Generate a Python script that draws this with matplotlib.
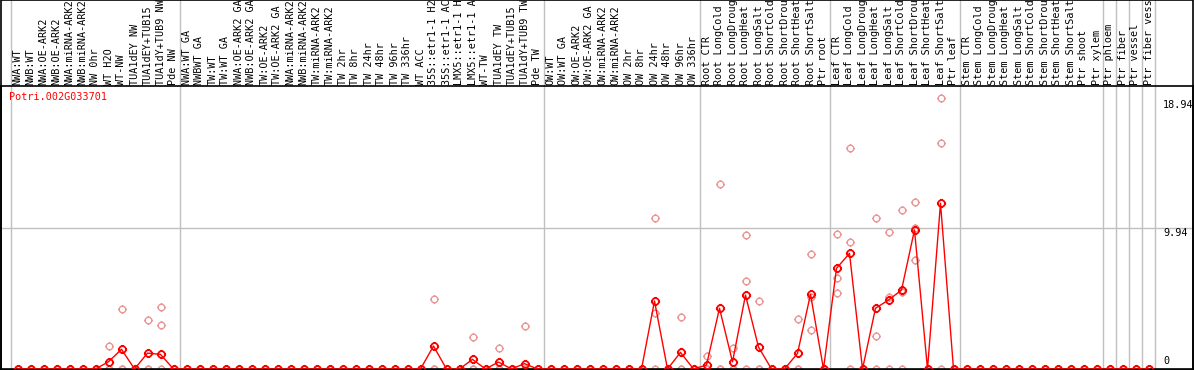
import numpy as np
import matplotlib
matplotlib.use("Agg")
import matplotlib.pyplot as plt
from matplotlib.path import Path
from matplotlib.patches import Rectangle

gene = "Potri.002G033701"

groups = [
    ["NWA:WT", "NWB:WT", "NWA:OE-ARK2", "NWB:OE-ARK2", "NWA:miRNA-ARK2", "NWB:miRNA-ARK2",
     "NW 0hr", "WT H2O", "WT-NW", "TUA1dEY NW", "TUA1dEY+TUB15", "TUA1dY+TUB9 NW", "Pde NW"],
    ["NWA:WT GA", "NWBWT GA", "TW:WT", "TW:WT GA", "NWA:OE-ARK2 GA", "NWB:OE-ARK2 GA",
     "TW:OE-ARK2", "TW:OE-ARK2 GA", "NWA:miRNA-ARK2", "NWB:miRNA-ARK2", "TW:miRNA-ARK2",
     "TW:miRNA-ARK2", "TW 2hr", "TW 8hr", "TW 24hr", "TW 48hr", "TW 96hr", "TW 336hr",
     "WT ACC", "35S::etr1-1 H2O", "35S::etr1-1 ACC", "LMX5::etr1-1 H2O", "LMX5::etr1-1 ACC",
     "WT-TW", "TUA1dEY TW", "TUA1dEY+TUB15", "TUA1dY+TUB9 TW", "Pde TW"],
    ["OW:WT", "OW:WT GA", "OW:OE-ARK2", "OW:OE-ARK2 GA", "OW:miRNA-ARK2", "OW:miRNA-ARK2",
     "OW 2hr", "OW 8hr", "OW 24hr", "OW 48hr", "OW 96hr", "OW 336hr"],
    ["Root CTR", "Root LongCold", "Root LongDrought", "Root LongHeat", "Root LongSalt",
     "Root ShortCold", "Root ShortDrought", "Root ShortHeat", "Root ShortSalt", "Ptr root"],
    ["Leaf CTR", "Leaf LongCold", "Leaf LongDrought", "Leaf LongHeat", "Leaf LongSalt",
     "Leaf ShortCold", "Leaf ShortDrought", "Leaf ShortHeat", "Leaf ShortSalt", "Ptr leaf"],
    ["Stem CTR", "Stem LongCold", "Stem LongDrought", "Stem LongHeat", "Stem LongSalt",
     "Stem ShortCold", "Stem ShortDrought", "Stem ShortHeat", "Stem ShortSalt",
     "Ptr shoot", "Ptr xylem"],
    ["Ptr phloem"],
    ["Ptr fiber"],
    ["Ptr vessel"],
    ["Ptr fiber vessel"],
]
labels = [s for g in groups for s in g]
n = len(labels)

# mean expression (red line), nonzero columns only
mean_nz = {7: 0.51, 8: 1.39, 10: 1.12, 11: 1.03, 32: 1.62, 35: 0.68, 37: 0.49, 39: 0.38,
           49: 4.79, 51: 1.17, 53: 0.28, 54: 4.28, 55: 0.50, 56: 5.21, 57: 1.55, 60: 1.10,
           61: 5.26, 63: 7.09, 64: 8.15, 66: 4.28, 67: 4.86, 68: 5.56, 69: 9.80, 71: 11.68}
# replicate points (pink), three per column
rep1_nz = {7: 1.62, 8: 4.20, 10: 3.43, 11: 4.34, 32: 4.93, 35: 2.23, 37: 1.46, 39: 3.01,
           49: 10.62, 51: 3.64, 53: 0.91, 54: 13.04, 55: 1.50, 56: 9.45, 57: 4.79, 60: 3.52,
           61: 8.11, 63: 9.51, 64: 15.55, 66: 10.62, 67: 9.63, 68: 11.20, 69: 11.75, 71: 19.06}
rep2_nz = {11: 3.07, 49: 3.92, 56: 6.20, 61: 5.05, 63: 6.39, 64: 8.93, 66: 2.32, 67: 5.05,
           68: 5.45, 69: 9.95, 71: 15.90}
rep3_nz = {61: 2.75, 63: 5.33, 69: 7.68}

mean = np.array([mean_nz.get(i, 0.0) for i in range(n)])
rep1 = np.array([rep1_nz.get(i, 0.0) for i in range(n)])
rep2 = np.array([rep2_nz.get(i, 0.0) for i in range(n)])
rep3 = np.array([rep3_nz.get(i, 0.0) for i in range(n)])

ymax = 19.94
yticks = [0, 9.94, 18.94]

# circle marker with four small ticks
t = np.linspace(0, 2 * np.pi, 33)
verts = [(np.cos(a), np.sin(a)) for a in t]
codes = [Path.MOVETO] + [Path.LINETO] * 32
tk = 1.35
for (a, b) in [((0, 1), (0, tk)), ((0, -1), (0, -tk)), ((1, 0), (tk, 0)), ((-1, 0), (-tk, 0))]:
    verts += [a, b]
    codes += [Path.MOVETO, Path.LINETO]
mk = Path(verts, codes)

W, H = 1194, 370
fig = plt.figure(figsize=(W / 100, H / 100), dpi=100)
x0 = 17.5
dx = 13.0
left_px, right_px, top_px, bot_px = 1, 1193, 86, 369
ax = fig.add_axes([left_px / W, (H - bot_px) / H, (right_px - left_px) / W, (bot_px - top_px) / H])
ax.set_xlim((left_px - x0) / dx, (right_px - x0) / dx)
ax.set_ylim(0, ymax)
ax.set_xticks([])
ax.set_yticks([])
for s in ax.spines.values():
    s.set_linewidth(1.2)
    s.set_color("black")

xs = np.arange(n)
pink = "#eb9696"
red = "#ff0000"
for r in (rep1, rep2, rep3):
    ax.plot(xs, r, linestyle="none", marker=mk, markersize=6.4, markerfacecolor="none",
            markeredgecolor=pink, markeredgewidth=1.0, clip_on=False, zorder=2)
ax.plot(xs, mean, color=red, linewidth=1.0, marker=mk, markersize=6.6,
        markerfacecolor="none", markeredgecolor=red, markeredgewidth=1.3,
        clip_on=False, zorder=3)

# group boundary lines (extend into label area)
bounds = np.cumsum([0] + [len(g) for g in groups]) - 0.5
for b in bounds:
    ax.axvline(b, ymin=0, ymax=H / (bot_px - top_px), color="#c0c0c0",
               linewidth=1.0, clip_on=False, zorder=1)
ax.axhline(yticks[1], color="#c0c0c0", linewidth=1.0, zorder=1)

mono = "DejaVu Sans Mono"
lab_x = (1163 - x0) / dx
ax.text(lab_x, 18.94, "18.94", fontsize=7.3, family=mono, va="top", ha="left")
ax.text(lab_x, 9.94, "9.94", fontsize=7.3, family=mono, va="top", ha="left")
ax.text(lab_x, 0.2, "0", fontsize=7.3, family=mono, va="bottom", ha="left")

ax.text((9 - x0) / dx, ymax - 0.45, gene, color=red, fontsize=7.3, family=mono,
        va="top", ha="left")

for i, lab in enumerate(labels):
    ax.text(i, ymax + 0.1, lab, rotation=90, fontsize=7.3, family=mono,
            ha="center", va="bottom", clip_on=False)

fig.patches.append(Rectangle((0.0005, 0.001), 0.999, 0.998, transform=fig.transFigure,
                             fill=False, edgecolor="black", linewidth=1.2))

fig.savefig("out.png", dpi=100)
